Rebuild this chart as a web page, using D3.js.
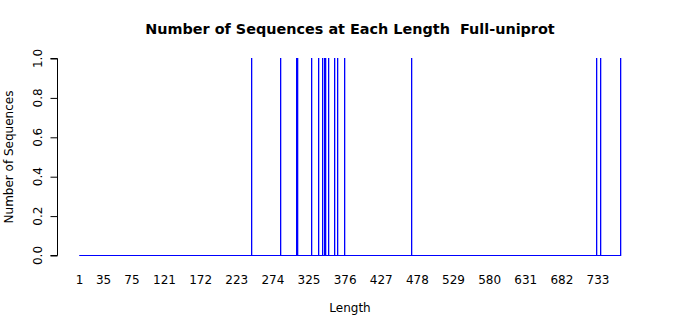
<!DOCTYPE html>
<html lang="en">
<head>
    <meta charset="UTF-8">
    <title>Number of Sequences at Each Length</title>
    <script src="https://d3js.org/d3.v7.min.js"></script>
    <style>
        body { margin: 0; background: white; }
        text { font-family: "DejaVu Sans", sans-serif; fill: black; }
        .title { font-weight: bold; font-size: 14.4px; white-space: pre; }
    </style>
</head>
<body>
<script>
    const width = 700;
    const height = 315;

    // sequence lengths that occur once (all other lengths have count 0)
    const seqLengths = [243, 284, 306, 308, 328, 337, 344, 346, 348, 352, 360, 365, 374, 469, 730, 736, 764];
    const seqCounts  = [1, 1, 1, 1, 1, 1, 1, 1, 1, 1, 1, 1, 1, 1, 1, 1, 1];
    const minLength = 1;
    const maxLength = 764;
    const xTickLabels = [1, 35, 75, 121, 172, 223, 274, 325, 376, 427, 478, 529, 580, 631, 682, 733];
    const yTicks = [0, 0.2, 0.4, 0.6, 0.8, 1.0];

    const svg = d3.select("body").append("svg")
            .attr("width", width).attr("height", height);

    const x = d3.scaleLinear().domain([minLength, maxLength]).range([79.5, 620]);
    const y = d3.scaleLinear().domain([0, 1]).range([255, 58]);
    const barW = (x(2) - x(1)) / 1.2;

    // title
    svg.append("text").attr("class", "title")
            .attr("x", 350).attr("y", 34)
            .attr("text-anchor", "middle")
            .text("Number of Sequences at Each Length  Full-uniprot");

    // y axis (R style: rotated labels)
    const yAxis = svg.append("g").attr("transform", "translate(57.5,0)")
            .call(d3.axisLeft(y).tickValues(yTicks).tickSize(7).tickFormat(d3.format(".1f")));
    yAxis.select(".domain").attr("d", "M-7," + (y(0) + 0.5) + "H0V" + (y(1) + 0.5) + "H-7");
    yAxis.selectAll(".tick line").attr("transform", "translate(0,0.5)");
    yAxis.selectAll(".tick text")
            .attr("x", null).attr("dy", null)
            .attr("transform", "translate(-16,0) rotate(-90)")
            .attr("text-anchor", "middle")
            .style("font-size", "12px")
            .style("font-family", "DejaVu Sans, sans-serif");

    svg.append("text")
            .attr("transform", "translate(13,157) rotate(-90)")
            .attr("text-anchor", "middle")
            .style("font-size", "12px")
            .text("Number of Sequences");

    // zero-height bars show up as a baseline
    svg.append("line")
            .attr("x1", x(minLength) - barW / 2).attr("x2", x(maxLength) + barW / 2)
            .attr("y1", y(0) + 0.5).attr("y2", y(0) + 0.5)
            .attr("stroke", "blue").attr("stroke-width", 1);

    svg.append("g").selectAll("rect")
            .data(seqLengths).enter()
            .append("rect")
            .attr("x", d => Math.round(x(d)))
            .attr("width", 1.3)
            .attr("y", (d, i) => y(seqCounts[i]))
            .attr("height", (d, i) => y(0) - y(seqCounts[i]) + 1)
            .attr("fill", "blue");

    // x labels (no axis line, as in R barplot)
    svg.append("g").selectAll("text")
            .data(xTickLabels).enter()
            .append("text")
            .attr("x", d => x(d))
            .attr("y", 284)
            .attr("text-anchor", "middle")
            .style("font-size", "12px")
            .text(d => d);

    svg.append("text")
            .attr("x", 350).attr("y", 312)
            .attr("text-anchor", "middle")
            .style("font-size", "12px")
            .text("Length");
</script>
</body>
</html>
